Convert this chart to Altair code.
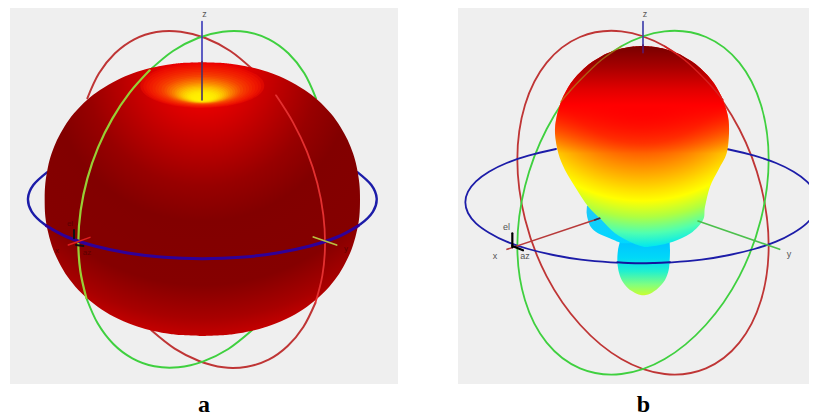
import altair as alt
import pandas as pd

W, H = 801, 410
xs = alt.Scale(domain=[8, 8 + W], range=[0, W], nice=False, zero=False)
ys = alt.Scale(domain=[8, 8 + H], range=[0, H], nice=False, zero=False)
X = alt.X("x:Q", scale=xs, axis=None)
Y = alt.Y("y:Q", scale=ys, axis=None)
OX = 408  # panel b readings were taken from a crop starting here

# ---- panels (real px)
panel_x = [10, 458]
panel_x2 = [398, 817]
panel_y = [6, 6]
panel_y2 = [384, 384]

# ---- panel a readings (3x crop coordinates)
body_a_row = [187, 189, 192, 197, 205, 220, 240, 270, 300, 340, 380, 420, 460, 500, 550, 597, 650, 700, 750, 800, 840, 880, 920, 950, 975, 990, 1000, 1005, 1008]
body_a_l = [607, 548, 518, 485, 448, 399, 352, 300, 261, 222, 193, 171, 155, 144, 136, 134, 136, 145, 160, 184, 210, 245, 293, 342, 399, 448, 497, 536, 607]
body_a_r = [607, 666, 696, 729, 766, 815, 862, 914, 953, 992, 1021, 1043, 1059, 1070, 1078, 1080, 1078, 1069, 1054, 1030, 1004, 969, 921, 872, 815, 766, 717, 678, 607]

red_a_top_x = [262, 297, 345, 403, 469, 542, 616, 691, 761]
red_a_top_y = [295, 220, 160, 118, 96, 95, 114, 153, 211]
red_a_mid_x = [828, 879, 921, 952, 970, 975, 967, 946]
red_a_mid_y = [286, 367, 455, 550, 645, 739, 827, 909]
red_a_low_x = [946, 910, 863, 806, 741, 670, 597, 524, 454]
red_a_low_y = [909, 981, 1038, 1079, 1100, 1102, 1083, 1046, 991]

green_a_top_x = [948, 913, 865, 807, 741, 668, 594, 519, 449]
green_a_top_y = [295, 220, 160, 118, 96, 95, 114, 153, 211]
green_a_mid_x = [449, 389, 337, 294, 262, 242, 235, 241, 259]
green_a_mid_y = [211, 278, 356, 443, 536, 631, 724, 813, 894]
green_a_low_x = [259, 293, 340, 397, 463, 535, 610, 685, 756]
green_a_low_y = [894, 970, 1032, 1075, 1099, 1102, 1084, 1047, 991]

blue_a_x = [1073, 1114, 1130, 1119, 1081, 1019, 936, 836, 725, 607, 489, 378, 278, 195, 133, 95, 84, 100, 141]
blue_a_y = [517, 555, 595, 635, 673, 708, 736, 758, 771, 776, 771, 758, 736, 708, 673, 635, 595, 555, 517]
blue_a_on_x = [1075, 1012, 930, 831, 722, 607, 492, 383, 284, 202, 139]
blue_a_on_y = [677, 711, 738, 759, 772, 776, 772, 759, 738, 711, 677]

# yellow glow round the dimple of pattern a (real px)
glow_y = [85.7, 86.3, 86.8, 87.4, 88, 88.6, 89.2, 89.8, 90.5, 91, 91.6, 92.2, 92.9, 93.4, 94, 94.5, 95, 95.5, 96, 96.6, 97.1, 97.6, 98.1, 98.6]
glow_rx = [62, 59, 56, 53, 50, 47, 44, 41, 38, 35.5, 33, 30.5, 28, 26, 24, 22, 20, 18, 16, 14, 12, 10, 8, 6]
glow_c = ["#f01000", "#f01600", "#f21c00", "#f32400", "#f42c00", "#f53600", "#f64000", "#f74e00", "#f85e00", "#f96e00",
          "#fa7e00", "#fb8e00", "#fc9e00", "#fcae00", "#fdbc00", "#fdca00", "#fed600", "#fee000", "#fee800", "#ffee00",
          "#fff000", "#fff200", "#fff200", "#fff200"]
ELLIPSE = "M-1,0 C-1,-.199 -.552,-.36 0,-.36 C.552,-.36 1,-.199 1,0 C1,.199 .552,.36 0,.36 C-.552,.36 -1,.199 -1,0 Z"

# ---- panel b readings (3x crop coordinates, offset OX)
lobe_row = [138, 140, 145, 150, 160, 170, 185, 200, 225, 250, 275, 300, 350, 400, 460, 510, 560, 620, 660, 700, 725, 737, 741]
lobe_l = [703, 671, 643, 625, 598, 578, 553, 534, 508, 488, 473, 461, 446, 441, 451, 471, 501, 541, 581, 621, 665, 695, 711]
lobe_r = [703, 735, 763, 781, 808, 828, 853, 872, 898, 918, 933, 945, 960, 963, 956, 931, 906, 891, 885, 848, 795, 745, 711]
top_row = lobe_row[:15]
top_l = lobe_l[:15]
top_r = lobe_r[:15]

side_row = [617, 640, 660, 680, 700, 715, 730]
side_l = [537, 536, 540, 548, 570, 605, 640]
side_r = [560, 600, 620, 640, 660, 690, 720]

low_row = [725, 750, 780, 810, 840, 865, 878, 884, 886]
low_l = [636, 630, 628, 631, 641, 660, 680, 695, 705]
low_r = [785, 786, 785, 782, 771, 750, 732, 717, 705]

red_b_x = [1082, 1059, 994, 894, 770, 640, 517, 416, 351, 328, 351, 416, 516, 640, 770, 894, 994, 1059]
red_b_y = [738, 901, 1028, 1105, 1122, 1077, 975, 829, 657, 478, 315, 188, 111, 94, 139, 241, 387, 559]
green_b_x = [328, 351, 416, 516, 640, 770, 893, 994, 1059, 1082, 1059, 994, 894, 770, 640, 516, 416, 351]
green_b_y = [738, 901, 1028, 1105, 1122, 1077, 975, 829, 657, 478, 315, 188, 111, 94, 139, 241, 387, 559]
blue_b_x = [956, 1039, 1104, 1157, 1196, 1220, 1228, 1220, 1196, 1157, 1104, 1039, 964, 881, 792, 700, 608, 519, 436, 361, 296, 243, 204, 180, 172, 180, 204, 243, 296, 361, 444]
blue_b_y = [447, 467, 489, 515, 544, 575, 607, 639, 670, 698, 725, 747, 765, 779, 787, 790, 787, 779, 765, 747, 725, 698, 670, 639, 607, 575, 544, 515, 489, 467, 447]
blue_b_on_x = [786, 740, 700, 660, 628]
blue_b_on_y = [787, 789, 790, 789, 787]
green_b_on_x = [458, 516, 580, 640]
green_b_on_y = [305, 241, 180, 139]
red_b_on_x = [770, 830, 894, 945]
red_b_on_y = [139, 180, 241, 300]

# ---- labels (real px)
lab_txt = ["z", "z", "x", "y", "el", "az"]
lab_x = [204.5, 645, 495, 789, 506.5, 525]
lab_y = [17, 17, 259, 257, 230, 259]
caption_txt = ["a", "b"]
caption_x = [204, 643.5]
caption_y = [412, 412]
a_lab_txt = ["el", "x", "az", "y"]
a_lab_x = [70, 57, 87, 346]
a_lab_y = [226, 253, 255, 251]


def pts(px, py, ox=0):
    return pd.DataFrame({"x": [v / 3 + ox for v in px], "y": [v / 3 for v in py], "i": range(len(px))})


def line(px, py, color, width, ox=0, interp="cardinal", opacity=1):
    return alt.Chart(pts(px, py, ox)).mark_line(
        color=color, strokeWidth=width, interpolate=interp, opacity=opacity, strokeCap="round"
    ).encode(x=X, y=Y, order="i:Q")


def blob(row, left, right, fill, ox=0, interp="cardinal"):
    d = pd.DataFrame({"y": [v / 3 for v in row], "x": [v / 3 + ox for v in left], "x2": [v / 3 + ox for v in right]})
    return alt.Chart(d).mark_area(orient="horizontal", interpolate=interp, color=fill, line=False).encode(
        x=X, x2="x2:Q", y=Y
    )


def stops(*pairs):
    return [alt.GradientStop(offset=o, color=c) for o, c in pairs]


def lin(*pairs):
    return alt.Gradient(gradient="linear", x1=0, x2=0, y1=0, y2=1, stops=stops(*pairs))


def rad(cy, r, *pairs):
    return alt.RadialGradient(gradient="radial", x1=0.5, y1=cy, r1=0, x2=0.5, y2=cy, r2=r, stops=stops(*pairs))


def seg(x0, y0, x1, y1, color, width, ox=0):
    return line([x0, x1], [y0, y1], color, width, ox, "linear")


def text(t, x, y, color, size, font="Liberation Sans", weight="normal"):
    d = pd.DataFrame({"x": x, "y": y, "t": t})
    return alt.Chart(d).mark_text(color=color, fontSize=size, font=font, fontWeight=weight, baseline="alphabetic", align="center").encode(
        x=X, y=Y, text="t:N"
    )


panels = alt.Chart(pd.DataFrame({"x": panel_x, "x2": panel_x2, "y": panel_y, "y2": panel_y2})).mark_rect(color="#efefef").encode(
    x=X, x2="x2:Q", y=Y, y2="y2:Q"
)

body_fill = rad(0.09, 0.875, (0, "#f00000"), (0.14, "#e40000"), (0.3, "#b80000"), (0.42, "#980000"), (0.55, "#820000"),
                (0.78, "#850000"), (0.9, "#a80000"), (1, "#d40000"))

glow = alt.Chart(pd.DataFrame({
    "x": [202.3] * len(glow_y), "y": glow_y, "s": [(2 * r) ** 2 for r in glow_rx], "c": glow_c, "i": range(len(glow_y))
})).mark_point(filled=True, shape=ELLIPSE, opacity=0.5, strokeWidth=0).encode(
    x=X, y=Y, size=alt.Size("s:Q", scale=None, legend=None), color=alt.Color("c:N", scale=None, legend=None), order="i:Q"
)

lobe_fill = rad(0.02, 1.0, (0, "#ff0000"), (0.3, "#ff0000"), (0.465, "#ff4000"), (0.58, "#ff9000"), (0.7, "#ffe000"),
                (0.75, "#ffff00"), (0.83, "#b0ff40"), (0.91, "#50ffb0"), (0.98, "#00e8f0"), (1, "#00d8ff"))
top_fill = lin((0, "#780000"), (0.2, "#a80000"), (0.4, "#e00000"), (0.55, "#ff0000"), (1, "rgba(255,0,0,0)"))

RED, GREEN, BLUE = "#bf3535", "#3fd03f", "#1c1ca8"

layers = [
    panels,
    # panel a, behind the body
    line(red_a_top_x, red_a_top_y, RED, 2),
    line(green_a_top_x, green_a_top_y, GREEN, 2),
    line(red_a_low_x, red_a_low_y, RED, 2),
    line(green_a_low_x, green_a_low_y, GREEN, 2),
    seg(606, 65, 606, 190, "#3838b8", 1.6),
    line(blue_a_x, blue_a_y, BLUE, 2.4),
    blob(body_a_row, body_a_l, body_a_r, body_fill),
    glow,
    seg(606, 185, 606, 300, "#46306a", 1.6),
    line(red_a_mid_x, red_a_mid_y, "#e43030", 1.8),
    line(green_a_mid_x, green_a_mid_y, "#98cf35", 2.2),
    line(blue_a_on_x, blue_a_on_y, "#300098", 3),
    seg(205, 735, 270, 712, "#e02020", 1.5),
    seg(940, 711, 1010, 735, "#b8c040", 1.8),
    seg(222, 715, 222, 690, "#101010", 2),
    seg(228, 735, 250, 738, "#101010", 2),
    text(a_lab_txt, a_lab_x, a_lab_y, "#5c0000", 8),
    # panel b, behind the lobes
    line(red_b_x, red_b_y, RED, 1.8, OX, "cardinal-closed"),
    line(green_b_x, green_b_y, GREEN, 1.8, OX, "cardinal-closed"),
    line(blue_b_x, blue_b_y, BLUE, 1.8, OX),
    seg(705, 65, 705, 140, "#3838a8", 1.6, OX),
    blob(low_row, low_l, low_r, lin((0, "#00c4ff"), (0.3, "#00d8f8"), (0.55, "#20f0d0"), (0.8, "#80ff80"), (1, "#c8ff30")), OX),
    blob(side_row, side_l, side_r, lin((0, "#20c8f8"), (1, "#00d8ff")), OX),
    blob(lobe_row, lobe_l, lobe_r, lobe_fill, OX),
    blob(top_row, top_l, top_r, top_fill, OX),
    seg(705, 135, 705, 158, "#5a1a70", 1.6, OX),
    line(green_b_on_x, green_b_on_y, "#a89a20", 1.5, OX, opacity=0.6),
    line(red_b_on_x, red_b_on_y, "#d82020", 1.5, OX),
    line(blue_b_on_x, blue_b_on_y, "#14149c", 2, OX),
    seg(297, 748, 575, 655, "#b83a3a", 1.6, OX),
    seg(560, 660, 575, 655, "#303050", 1.6, OX),
    seg(870, 663, 1115, 748, "#4cc04c", 1.6, OX),
    seg(313, 742, 313, 700, "#000000", 2.2, OX),
    seg(313, 738, 345, 751, "#000000", 2.2, OX),
    text(lab_txt, lab_x, lab_y, "#555555", 9),
    text(caption_txt, caption_x, caption_y, "#000000", 24, "Liberation Serif", "bold"),
]

chart = alt.layer(*layers).properties(
    width=W, height=H, padding=0, autosize="none", background="#ffffff"
).configure_view(stroke=None)

chart.save("out.html", embed_options={"renderer": "svg", "actions": False})
